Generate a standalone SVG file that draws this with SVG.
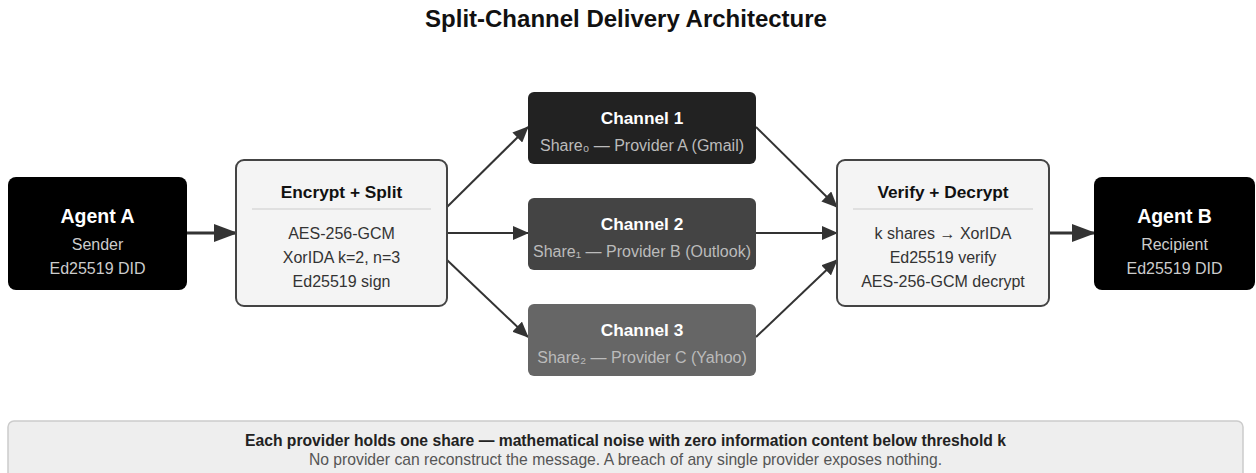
<svg xmlns="http://www.w3.org/2000/svg" width="1256" height="473" viewBox="0 0 1256 473">
<defs>
<marker id="big" viewBox="0 0 24 18" refX="23" refY="9" markerWidth="24" markerHeight="18" markerUnits="userSpaceOnUse" orient="auto"><path d="M0,0 L24,9 L0,18 z" fill="#333"/></marker>
<marker id="sm" viewBox="0 0 16 14" refX="15" refY="7" markerWidth="16" markerHeight="14" markerUnits="userSpaceOnUse" orient="auto"><path d="M0,0 L16,7 L0,14 z" fill="#333"/></marker>
</defs>
<style>
text{font-family:"Liberation Sans",Arial,sans-serif;text-anchor:middle}
.agent{fill:#000}
.at{font-size:19.5px;font-weight:bold;fill:#fff}
.as{font-size:16px;fill:#ccc}
.proc{fill:#f4f4f4;stroke:#444;stroke-width:2}
.pt{font-size:17.3px;font-weight:bold;fill:#111}
.ps{font-size:16px;fill:#333}
.sep{stroke:#ccc;stroke-width:1}
.ct{font-size:17.3px;font-weight:bold;fill:#fff}
.cs{font-size:16px;fill:#bbb}
.thick{stroke:#333;stroke-width:3;fill:none}
.thin{stroke:#333;stroke-width:2;fill:none}
</style>
<rect width="1256" height="473" fill="#fff"/>
<text x="626" y="27" style="font-size:24px;font-weight:bold;fill:#111">Split-Channel Delivery Architecture</text>

<g id="connectors">
<line class="thick" x1="187" y1="233" x2="237" y2="233" marker-end="url(#big)"/>
<line class="thin" x1="447" y1="207" x2="528" y2="127" marker-end="url(#sm)"/>
<line class="thin" x1="447" y1="233" x2="528" y2="233" marker-end="url(#sm)"/>
<line class="thin" x1="447" y1="260" x2="528" y2="337" marker-end="url(#sm)"/>
<line class="thin" x1="756" y1="127" x2="837" y2="207" marker-end="url(#sm)"/>
<line class="thin" x1="756" y1="233" x2="837" y2="233" marker-end="url(#sm)"/>
<line class="thin" x1="756" y1="337" x2="837" y2="260" marker-end="url(#sm)"/>
<line class="thick" x1="1049" y1="233" x2="1095" y2="233" marker-end="url(#big)"/>
</g>

<g id="agentA">
<rect class="agent" x="8" y="177" width="179" height="113" rx="8"/>
<text class="at" x="97.5" y="223">Agent A</text>
<text class="as" x="97.5" y="250">Sender</text>
<text class="as" x="97.5" y="274">Ed25519 DID</text>
</g>

<g id="encrypt">
<rect class="proc" x="236" y="160" width="211" height="146" rx="8"/>
<text class="pt" x="341.5" y="198">Encrypt + Split</text>
<line class="sep" x1="252" y1="209" x2="431" y2="209"/>
<text class="ps" x="341.5" y="239">AES-256-GCM</text>
<text class="ps" x="341.5" y="263">XorIDA k=2, n=3</text>
<text class="ps" x="341.5" y="287">Ed25519 sign</text>
</g>

<g id="channel1">
<rect x="528" y="92" width="228" height="72" rx="6" fill="#222"/>
<text class="ct" x="642" y="124">Channel 1</text>
<text class="cs" x="642" y="151">Share₀ — Provider A (Gmail)</text>
</g>
<g id="channel2">
<rect x="528" y="198" width="228" height="72" rx="6" fill="#444"/>
<text class="ct" x="642" y="230">Channel 2</text>
<text class="cs" x="642" y="257">Share₁ — Provider B (Outlook)</text>
</g>
<g id="channel3">
<rect x="528" y="304" width="228" height="72" rx="6" fill="#666"/>
<text class="ct" x="642" y="336">Channel 3</text>
<text class="cs" x="642" y="363">Share₂ — Provider C (Yahoo)</text>
</g>

<g id="verify">
<rect class="proc" x="837" y="160" width="212" height="146" rx="8"/>
<text class="pt" x="943" y="198">Verify + Decrypt</text>
<line class="sep" x1="853" y1="209" x2="1033" y2="209"/>
<text class="ps" x="943" y="239">k shares → XorIDA</text>
<text class="ps" x="943" y="263">Ed25519 verify</text>
<text class="ps" x="943" y="287">AES-256-GCM decrypt</text>
</g>

<g id="agentB">
<rect class="agent" x="1094" y="177" width="161" height="113" rx="8"/>
<text class="at" x="1174.5" y="223">Agent B</text>
<text class="as" x="1174.5" y="250">Recipient</text>
<text class="as" x="1174.5" y="274">Ed25519 DID</text>
</g>

<g id="note">
<rect x="8" y="421" width="1235" height="70" rx="6" fill="#eee" stroke="#ccc" stroke-width="1.5"/>
<text x="625.5" y="446" style="font-size:15.7px;font-weight:bold;fill:#222">Each provider holds one share — mathematical noise with zero information content below threshold k</text>
<text x="625.5" y="465" style="font-size:15.7px;fill:#555">No provider can reconstruct the message. A breach of any single provider exposes nothing.</text>
</g>
</svg>
